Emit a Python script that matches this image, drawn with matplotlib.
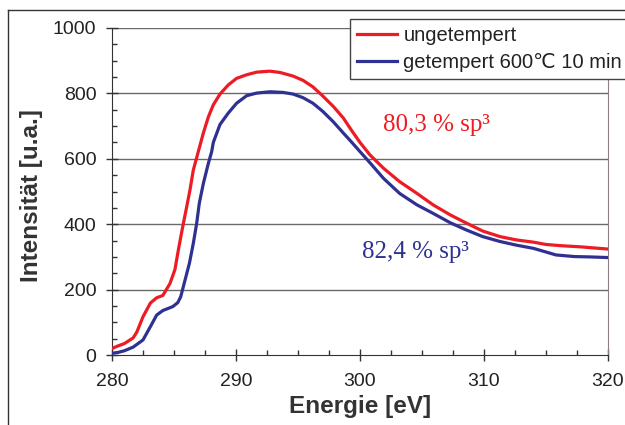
import matplotlib
matplotlib.use("Agg")
import matplotlib.pyplot as plt
from matplotlib.lines import Line2D
from matplotlib.ticker import MultipleLocator

# Data
x_unget = [280, 280.5, 281, 281.7, 282, 282.5, 283.1, 283.6, 284.1, 284.68, 285.08, 285.35,
           285.7, 285.97, 286.29, 286.56, 286.96, 287.36, 287.77, 288.17, 288.71, 289.38,
           290.05, 290.86, 291.67, 292.74, 293.55, 294.6, 295.4, 296.2, 297.0, 297.85,
           298.65, 299.3, 300.0, 300.8, 301.9, 303.2, 304.6, 305.9, 307.3, 308.6, 309.9,
           311.3, 312.6, 314.0, 315.0, 316.3, 317.7, 319, 320]
y_unget = [20, 28, 35, 52, 70, 117, 159, 175, 182, 219, 262, 321,
           392, 443, 505, 566, 622, 678, 728, 765, 798, 826,
           846, 857, 865, 868, 864, 853, 840, 820, 792, 760,
           725, 688, 650, 612, 571, 530, 494, 459, 428, 403, 379,
           362, 352, 345, 338, 334, 331, 327, 324]

x_get = [280, 280.5, 281, 281.7, 282.5, 283.1, 283.6, 284.1, 284.9, 285.3, 285.54, 285.89,
         286.24, 286.56, 286.83, 287.04, 287.37, 287.77, 288.04, 288.17, 288.71, 289.38,
         290.05, 290.86, 291.67, 292.74, 293.8, 294.6, 295.4, 296.2, 297.0, 297.85,
         298.65, 299.3, 300.0, 300.8, 301.9, 303.2, 304.6, 305.9, 307.3, 308.6, 309.9,
         311.3, 312.6, 314.0, 315.0, 315.8, 317.3, 318.5, 320]
y_get = [5, 8, 13, 24, 46, 87, 122, 136, 148, 160, 178, 229,
         280, 342, 403, 464, 525, 586, 622, 650, 705, 740,
         770, 793, 801, 805, 803, 798, 787, 770, 745, 713,
         679, 652, 622, 588, 540, 494, 459, 433, 404, 382, 362,
         347, 336, 326, 315, 306, 301, 300, 298]

label_unget = "ungetempert"
label_get = "getempert 600\u2103 10 min"
ann_unget = "80,3 % sp\u00b3"
ann_get = "82,4 % sp\u00b3"
xticks = [280, 290, 300, 310, 320]
yticks = [0, 200, 400, 600, 800, 1000]

RED = "#ed1c24"
BLUE = "#2e3192"
SANS = ["Liberation Sans", "DejaVu Sans"]

plt.rcParams['font.family'] = SANS

fig = plt.figure(figsize=(6.25, 4.25), dpi=100)
ax = fig.add_axes([112/625, 1-355/425, (608-112)/625, (355-28)/425])

ax.plot(x_unget, y_unget, color=RED, lw=2.3, label=label_unget, zorder=3,
        solid_joinstyle='round')
ax.plot(x_get, y_get, color=BLUE, lw=2.3, label=label_get, zorder=3,
        solid_joinstyle='round')

ax.set_xlim(280, 320)
ax.set_ylim(0, 1000)
ax.set_xticks(xticks)
ax.set_yticks(yticks)
ax.xaxis.set_minor_locator(MultipleLocator(2.5))
ax.yaxis.set_minor_locator(MultipleLocator(50))

ax.tick_params(which='major', direction='inout', length=8.5, width=1, color='#333333',
               labelsize=14, labelcolor='#222222')
ax.tick_params(axis='y', which='major', pad=7)
ax.tick_params(axis='x', which='major', pad=9)
ax.tick_params(which='minor', direction='in', length=3.6, width=1, color='#333333')

for y in yticks[1:]:
    ax.axhline(y, color='#6e6868', lw=1, zorder=1)

ax.spines['top'].set_visible(False)
ax.spines['right'].set_color('#8c8080')
ax.spines['left'].set_color('#333333')
ax.spines['bottom'].set_color('#333333')

ax.set_xlabel("Energie [eV]", fontsize=17.5, fontweight='bold', color='#333333')
ax.xaxis.label.set_va('center')
ax.xaxis.set_label_coords(0.5, (355-407)/327)
ax.set_ylabel("Intensit\u00e4t [u.a.]", fontsize=17.5, fontweight='bold', color='#333333')
ax.yaxis.label.set_va('center')
ax.yaxis.set_label_coords((31.6-112)/496, (355-196)/327)

ax.text(301.85, 703, ann_unget, color=RED, fontsize=18, family=["Liberation Serif", "DejaVu Serif"],
        ha='left', va='center')
ax.text(300.2, 316, ann_get, color=BLUE, fontsize=18, family=["Liberation Serif", "DejaVu Serif"],
        ha='left', va='center')

leg = fig.legend(loc='upper left', bbox_to_anchor=(350/625, 1-19/425), borderaxespad=0,
                 fontsize=14.5, handlelength=2.0, handletextpad=0.3, borderpad=0.35,
                 labelspacing=0.4, fancybox=False, framealpha=1, edgecolor='#444444')
leg.get_frame().set_linewidth(1)
for t in leg.get_texts():
    t.set_color('#222222')

# outer figure frame (left and top)
fig.add_artist(Line2D([8/625, 8/625], [0, 1-10/425], transform=fig.transFigure, color='#333333', lw=1))
fig.add_artist(Line2D([8/625, 1], [1-10/425, 1-10/425], transform=fig.transFigure, color='#333333', lw=1))

fig.savefig("out.png", dpi=100)
